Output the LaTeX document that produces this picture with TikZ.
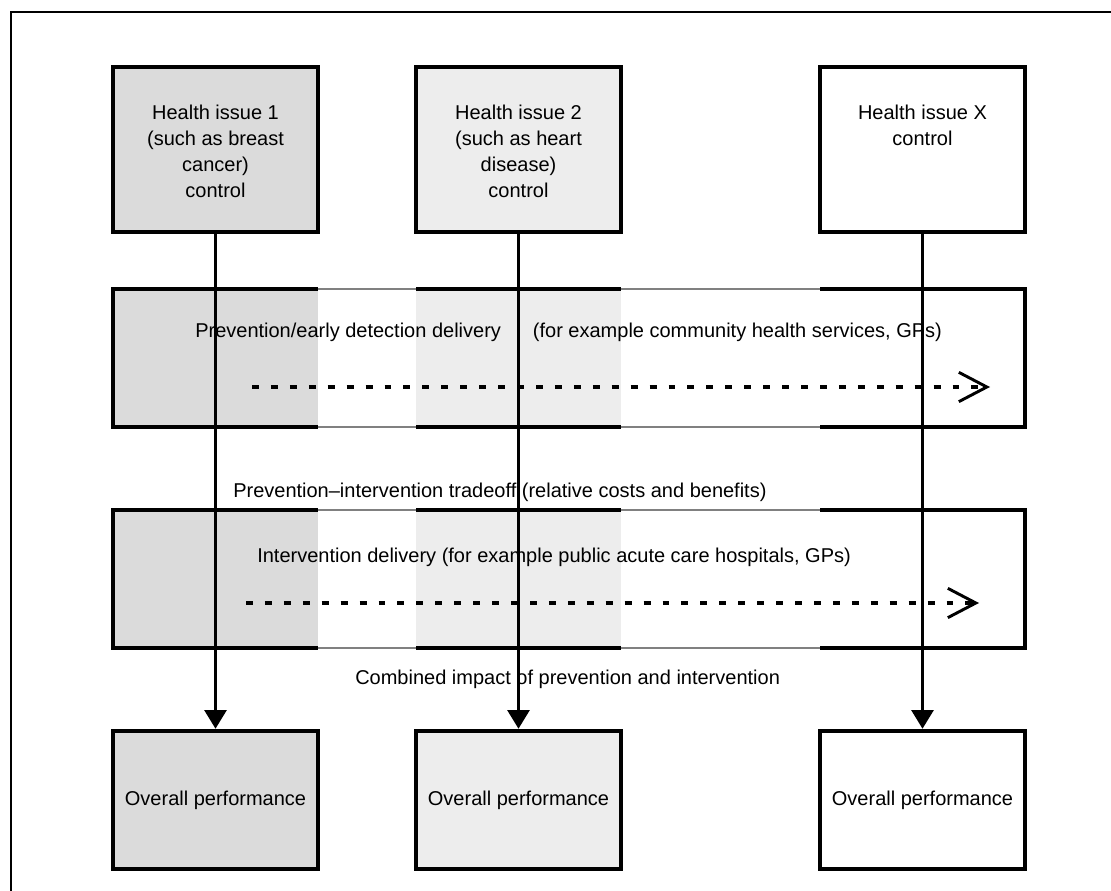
\documentclass[tikz,border=0pt]{standalone}
\usepackage{fontspec}
\setmainfont{Liberation Sans}
\usetikzlibrary{arrows.meta, positioning}
\definecolor{issueonefill}{gray}{0.86}
\definecolor{issuetwofill}{gray}{0.93}
\tikzset{
  issuebox/.style={
    draw, line width=3.4pt, inner sep=0pt,
    minimum width=153.75pt, minimum height=123.75pt
  },
  perfbox/.style={
    draw, line width=3.4pt, inner sep=0pt,
    minimum width=153.75pt, minimum height=103.5pt,
    font=\fontsize{15}{19.5}\selectfont
  },
  issuetext/.style={
    align=center, inner sep=0pt, anchor=north,
    font=\fontsize{15}{19.5}\selectfont
  },
  bandlabel/.style={
    inner sep=0pt, anchor=base west,
    font=\fontsize{15}{19.5}\selectfont
  },
  bandedge/.style={line width=3.4pt},
  gapedge/.style={line width=1.2pt, gray},
  flowarrow/.style={
    -{Triangle[length=14pt, width=16.5pt]}, line width=2.1pt
  },
  tradearrow/.style={
    -{Straight Barb[length=21pt, width=22pt, line width=2.2pt]},
    line width=2.6pt, dash pattern=on 5.2pt off 9pt
  },
}

\begin{document}
\begin{tikzpicture}[x=0.75pt, y=-0.75pt]
  \useasboundingbox (0,0) rectangle (1111,891);

  % Frame
  \draw[line width=2pt] (11,891) -- (11,12) -- (1111,12);

  % ---- Health issue boxes ----
  \node[issuebox, fill=issueonefill] (hi1) at (215.5,149.5) {};
  \node[issuebox, fill=issuetwofill] (hi2) at (518.5,149.5) {};
  \node[issuebox] (hix) at (922.5,149.5) {};
  \node[issuetext] (hi1text) at (215.5,105)
    {Health issue 1\\(such as breast\\cancer)\\control};
  \node[issuetext] (hi2text) at (518.5,105)
    {Health issue 2\\(such as heart\\disease)\\control};
  \node[issuetext] (hixtext) at (922.5,105)
    {Health issue X\\control};

  % ---- Prevention band ----
  \fill[issueonefill] (113,289) rectangle (318,427);
  \fill[issuetwofill] (416,289) rectangle (621,427);
  \draw[gapedge] (113,289) rectangle (1025,427);
  \draw[bandedge] (318,289) -- (113,289) -- (113,427) -- (318,427);
  \draw[bandedge] (416,289) -- (621,289);
  \draw[bandedge] (416,427) -- (621,427);
  \draw[bandedge] (820,289) -- (1025,289) -- (1025,427) -- (820,427);
  \node[bandlabel] (prevlabel) at (195,338)
    {Prevention/early detection delivery\hspace{1.6em}(for example community health services, GPs)};
  \coordinate (prevstart) at (252,387);
  \coordinate (prevend) at (990,387);
  \draw[tradearrow] (prevstart) -- (prevend);

  % Tradeoff label
  \node[bandlabel] (tradelabel) at (233,497)
    {Prevention--intervention tradeoff (relative costs and benefits)};

  % ---- Intervention band ----
  \fill[issueonefill] (113,510) rectangle (318,648);
  \fill[issuetwofill] (416,510) rectangle (621,648);
  \draw[gapedge] (113,510) rectangle (1025,648);
  \draw[bandedge] (318,510) -- (113,510) -- (113,648) -- (318,648);
  \draw[bandedge] (416,510) -- (621,510);
  \draw[bandedge] (416,648) -- (621,648);
  \draw[bandedge] (820,510) -- (1025,510) -- (1025,648) -- (820,648);
  \node[bandlabel] (intlabel) at (257,562)
    {Intervention delivery (for example public acute care hospitals, GPs)};
  \coordinate (intstart) at (246,603);
  \coordinate (intend) at (979,603);
  \draw[tradearrow] (intstart) -- (intend);

  % Combined label
  \node[bandlabel] (combinedlabel) at (355,684)
    {Combined impact of prevention and intervention};

  % ---- Overall performance boxes ----
  \node[perfbox, fill=issueonefill] (perf1) at (215.5,800) {Overall performance};
  \node[perfbox, fill=issuetwofill] (perf2) at (518.5,800) {Overall performance};
  \node[perfbox] (perfx) at (922.5,800) {Overall performance};

  % Issue to performance
  \draw[flowarrow] (hi1) -- (perf1);
  \draw[flowarrow] (hi2) -- (perf2);
  \draw[flowarrow] (hix) -- (perfx);
\end{tikzpicture}
\end{document}
